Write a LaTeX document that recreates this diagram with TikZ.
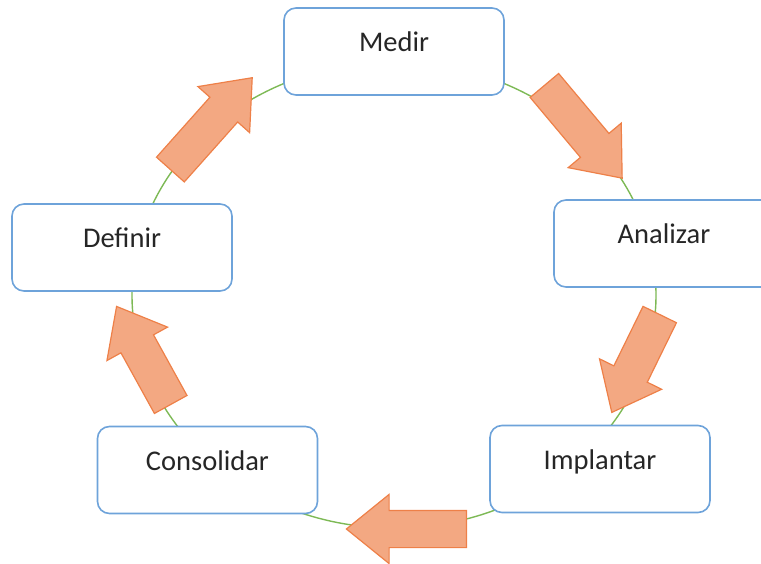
\documentclass[tikz,border=0pt]{standalone}
\usepackage{fontspec}
\setmainfont{Carlito}
\usetikzlibrary{shapes.arrows}
\definecolor{boxblue}{RGB}{110,163,218}
\definecolor{ringgreen}{RGB}{125,185,85}
\definecolor{arrowfill}{RGB}{243,168,130}
\definecolor{arrowline}{RGB}{238,128,72}
\definecolor{textgray}{RGB}{38,38,38}

\begin{document}
\begin{tikzpicture}[x=1pt,y=-1pt,
    box/.style={draw=boxblue,line width=1.6pt,fill=white,rounded corners=12pt,
      minimum width=220pt,minimum height=87pt,inner sep=0pt,
      text height=20pt,text depth=20pt,text=textgray,font=\fontsize{28.5}{34}\selectfont},
    bigarrow/.style={single arrow,draw=arrowline,line width=1.2pt,fill=arrowfill,anchor=tail,
      inner xsep=0pt,inner ysep=18pt,single arrow head extend=16pt,single arrow tip angle=78}]
    \useasboundingbox (0,0) rectangle (761,564);
    % ring behind the steps
    \draw[ringgreen,line width=1.4pt] (394,295) ellipse [x radius=262, y radius=233];
    % steps
    \node[box] (medir) at (394,51.5) {Medir};
    \node[box] (analizar) at (664,243.5) {Analizar};
    \node[box] (implantar) at (600,469) {Implantar};
    \node[box] (consolidar) at (207.5,470) {Consolidar};
    \node[box] (definir) at (122,247.5) {Definir};
    % block arrows, placed by their tails
    \node[bigarrow,minimum height=123pt,rotate=48.3] (defmed) at (170,170) {};
    \node[bigarrow,minimum height=121pt,rotate=-50] (medana) at (544,85) {};
    \node[bigarrow,minimum height=109pt,rotate=-116.1] (anaimp) at (660,314) {};
    \node[bigarrow,minimum height=120pt,rotate=180] (impcon) at (467,529) {};
    \node[bigarrow,minimum height=112pt,rotate=118.9] (condef) at (171,405) {};
  \end{tikzpicture}
\end{document}
